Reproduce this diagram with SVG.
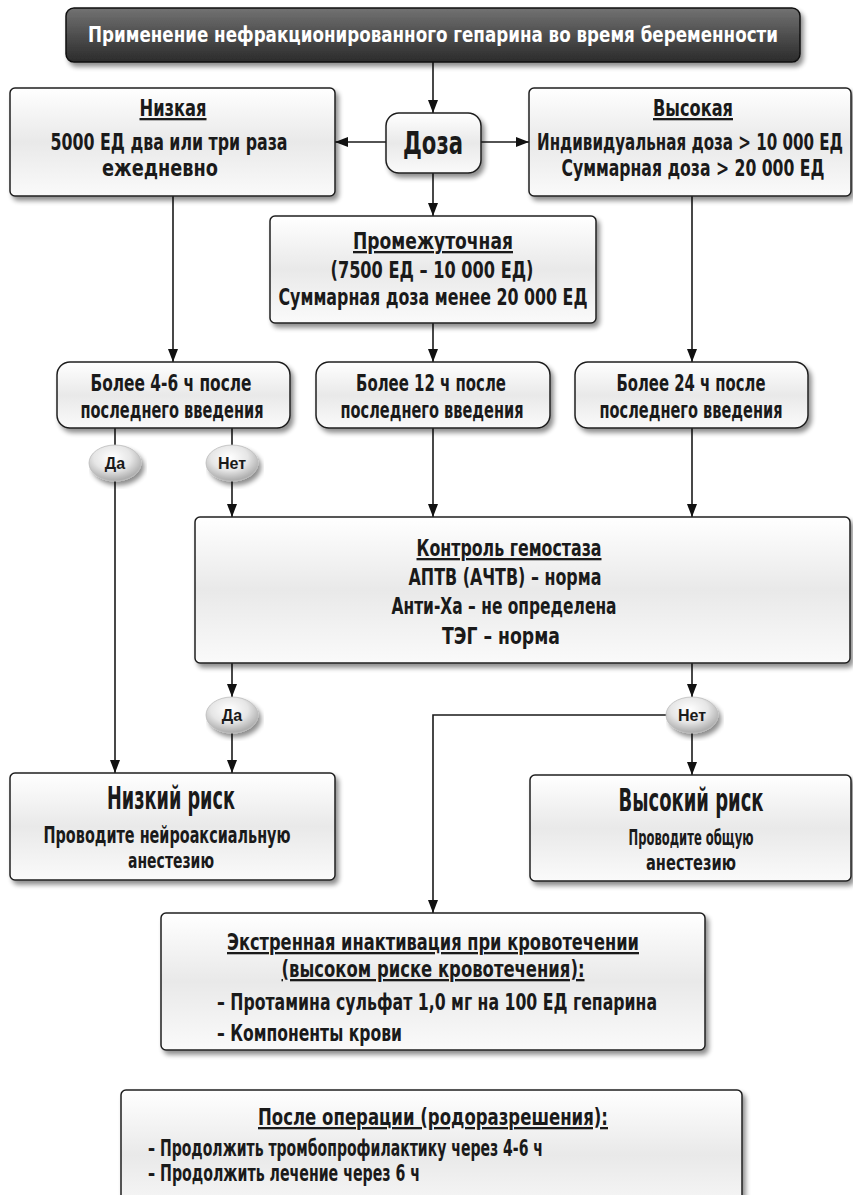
<svg xmlns="http://www.w3.org/2000/svg" width="853" height="1195" viewBox="0 0 853 1195">
  <defs>
    <linearGradient id="boxFill" x1="0" y1="0" x2="0" y2="1">
      <stop offset="0" stop-color="#ffffff"/>
      <stop offset="0.5" stop-color="#e9e9e9"/>
      <stop offset="1" stop-color="#fafafa"/>
    </linearGradient>
    <linearGradient id="titleFill" x1="0" y1="0" x2="0" y2="1">
      <stop offset="0" stop-color="#727272"/>
      <stop offset="1" stop-color="#2b2b2b"/>
    </linearGradient>
    <radialGradient id="pillFill" cx="0.45" cy="0.35" r="0.65">
      <stop offset="0" stop-color="#ffffff"/>
      <stop offset="0.55" stop-color="#e6e6e6"/>
      <stop offset="1" stop-color="#a9a9a9"/>
    </radialGradient>
    <filter id="shadow" x="-5%" y="-10%" width="115%" height="130%">
      <feGaussianBlur in="SourceAlpha" stdDeviation="2.5"/>
      <feOffset dx="3" dy="4" result="o"/>
      <feComponentTransfer><feFuncA type="linear" slope="0.45"/></feComponentTransfer>
      <feMerge><feMergeNode/><feMergeNode in="SourceGraphic"/></feMerge>
    </filter>
    <marker id="arrow" viewBox="0 0 13 10" markerWidth="13" markerHeight="10" refX="13" refY="5" orient="auto" markerUnits="userSpaceOnUse">
      <path d="M0,0 L13,5 L0,10 z" fill="#111"/>
    </marker>
  </defs>
  <style>
    .box { fill: url(#boxFill); stroke: #1f1f1f; stroke-width: 1.5; filter: url(#shadow); }
    .title { fill: url(#titleFill); stroke: #111; stroke-width: 1.5; filter: url(#shadow); }
    .pill { fill: url(#pillFill); stroke: #bdbdbd; stroke-width: 0.8; filter: url(#shadow); }
    text { font-family: "DejaVu Sans Condensed", "DejaVu Sans", sans-serif; font-stretch: condensed; font-weight: bold; fill: #1a1a1a; text-anchor: middle; }
    .t { font-size: 23px; }
    .s { font-size: 21px; }
    .u { text-decoration: underline; }
    .big { font-size: 32px; }
    .head { font-size: 21px; fill: #ffffff; }
    .pl { font-family: "Liberation Sans", Arial, sans-serif; font-stretch: normal; font-size: 16px; }
    .left { text-anchor: start; }
    .wire { fill: none; stroke: #1a1a1a; stroke-width: 1.6; }
  </style>

  <!-- connectors -->
  <g id="connectors">
    <path class="wire" d="M433,62 V113" marker-end="url(#arrow)"/>
    <path class="wire" d="M386,142 H335" marker-end="url(#arrow)"/>
    <path class="wire" d="M481,142 H529" marker-end="url(#arrow)"/>
    <path class="wire" d="M433,173 V216" marker-end="url(#arrow)"/>
    <path class="wire" d="M173,196 V362" marker-end="url(#arrow)"/>
    <path class="wire" d="M433,323 V362" marker-end="url(#arrow)"/>
    <path class="wire" d="M692,196 V362" marker-end="url(#arrow)"/>
    <path class="wire" d="M115,428 V773" marker-end="url(#arrow)"/>
    <path class="wire" d="M232,428 V517" marker-end="url(#arrow)"/>
    <path class="wire" d="M433,428 V517" marker-end="url(#arrow)"/>
    <path class="wire" d="M692,428 V517" marker-end="url(#arrow)"/>
    <path class="wire" d="M232,663 V697" marker-end="url(#arrow)"/>
    <path class="wire" d="M232,733 V773" marker-end="url(#arrow)"/>
    <path class="wire" d="M692,663 V697" marker-end="url(#arrow)"/>
    <path class="wire" d="M692,733 V775" marker-end="url(#arrow)"/>
    <path class="wire" d="M680,715 H433 V913" marker-end="url(#arrow)"/>
  </g>

  <g id="n-title">
    <rect class="title" x="66" y="8" width="734" height="54" rx="8"/>
    <text class="head" x="433" y="42" textLength="690" lengthAdjust="spacingAndGlyphs">Применение нефракционированного гепарина во время беременности</text>
  </g>

  <g id="n-dose">
    <rect class="box" x="386" y="113" width="95" height="60" rx="13"/>
    <text class="big" x="433" y="154" textLength="60" lengthAdjust="spacingAndGlyphs">Доза</text>
  </g>

  <g id="n-low">
    <rect class="box" x="10" y="88" width="325" height="108" rx="5"/>
    <text class="t u" x="173" y="116" textLength="67" lengthAdjust="spacingAndGlyphs">Низкая</text>
    <text class="t" x="169" y="150" textLength="237" lengthAdjust="spacingAndGlyphs">5000 ЕД два или три раза</text>
    <text class="t" x="160" y="176" textLength="116" lengthAdjust="spacingAndGlyphs">ежедневно</text>
  </g>

  <g id="n-high">
    <rect class="box" x="529" y="88" width="322" height="108" rx="5"/>
    <text class="t u" x="693" y="116" textLength="80" lengthAdjust="spacingAndGlyphs">Высокая</text>
    <text class="t" x="690" y="150" textLength="306" lengthAdjust="spacingAndGlyphs">Индивидуальная доза &gt; 10 000 ЕД</text>
    <text class="t" x="693" y="176" textLength="263" lengthAdjust="spacingAndGlyphs">Суммарная доза &gt; 20 000 ЕД</text>
  </g>

  <g id="n-mid">
    <rect class="box" x="270" y="216" width="326" height="107" rx="5"/>
    <text class="t u" x="433" y="249" textLength="160" lengthAdjust="spacingAndGlyphs">Промежуточная</text>
    <text class="t" x="432" y="278" textLength="203" lengthAdjust="spacingAndGlyphs">(7500 ЕД – 10 000 ЕД)</text>
    <text class="t" x="433" y="305" textLength="309" lengthAdjust="spacingAndGlyphs">Суммарная доза менее 20 000 ЕД</text>
  </g>

  <g id="n-time1">
    <rect class="box" x="57" y="362" width="233" height="66" rx="13"/>
    <text class="t" x="171" y="391" textLength="161" lengthAdjust="spacingAndGlyphs">Более 4-6 ч после</text>
    <text class="t" x="172" y="418" textLength="183" lengthAdjust="spacingAndGlyphs">последнего введения</text>
  </g>

  <g id="n-time2">
    <rect class="box" x="316" y="362" width="234" height="66" rx="13"/>
    <text class="t" x="431" y="391" textLength="150" lengthAdjust="spacingAndGlyphs">Более 12 ч после</text>
    <text class="t" x="432" y="418" textLength="183" lengthAdjust="spacingAndGlyphs">последнего введения</text>
  </g>

  <g id="n-time3">
    <rect class="box" x="575" y="362" width="233" height="66" rx="13"/>
    <text class="t" x="691" y="391" textLength="149" lengthAdjust="spacingAndGlyphs">Более 24 ч после</text>
    <text class="t" x="691" y="418" textLength="183" lengthAdjust="spacingAndGlyphs">последнего введения</text>
  </g>

  <g id="n-yes1">
    <ellipse class="pill" cx="115" cy="463" rx="26" ry="18"/>
    <text class="pl" x="115" y="469">Да</text>
  </g>

  <g id="n-no1">
    <ellipse class="pill" cx="232" cy="463" rx="26" ry="18"/>
    <text class="pl" x="232" y="469">Нет</text>
  </g>

  <g id="n-control">
    <rect class="box" x="195" y="517" width="655" height="146" rx="5"/>
    <text class="t u" x="509" y="556" textLength="185" lengthAdjust="spacingAndGlyphs">Контроль гемостаза</text>
    <text class="t" x="505" y="585" textLength="193" lengthAdjust="spacingAndGlyphs">АПТВ (АЧТВ) – норма</text>
    <text class="t" x="504" y="614" textLength="225" lengthAdjust="spacingAndGlyphs">Анти-Ха – не определена</text>
    <text class="t" x="501" y="644" textLength="118" lengthAdjust="spacingAndGlyphs">ТЭГ – норма</text>
  </g>

  <g id="n-yes2">
    <ellipse class="pill" cx="232" cy="715" rx="26" ry="18"/>
    <text class="pl" x="232" y="721">Да</text>
  </g>

  <g id="n-no2">
    <ellipse class="pill" cx="692" cy="715" rx="26" ry="18"/>
    <text class="pl" x="692" y="721">Нет</text>
  </g>

  <g id="n-lowrisk">
    <rect class="box" x="10" y="773" width="325" height="107" rx="5"/>
    <text class="big" x="171" y="809" textLength="128" lengthAdjust="spacingAndGlyphs">Низкий риск</text>
    <text class="t" x="167" y="843" textLength="247" lengthAdjust="spacingAndGlyphs">Проводите нейроаксиальную</text>
    <text class="s" x="171" y="868" textLength="86" lengthAdjust="spacingAndGlyphs">анестезию</text>
  </g>

  <g id="n-highrisk">
    <rect class="box" x="530" y="775" width="321" height="106" rx="5"/>
    <text class="big" x="691" y="811" textLength="145" lengthAdjust="spacingAndGlyphs">Высокий риск</text>
    <text class="s" x="691" y="845" textLength="125" lengthAdjust="spacingAndGlyphs">Проводите общую</text>
    <text class="s" x="691" y="870" textLength="90" lengthAdjust="spacingAndGlyphs">анестезию</text>
  </g>

  <g id="n-emergency">
    <rect class="box" x="161" y="913" width="544" height="137" rx="5"/>
    <text class="t u" x="433" y="950" textLength="412" lengthAdjust="spacingAndGlyphs">Экстренная инактивация при кровотечении</text>
    <text class="t u" x="433" y="977" textLength="303" lengthAdjust="spacingAndGlyphs">(высоком риске кровотечения):</text>
    <text class="t left" x="217" y="1010" textLength="440" lengthAdjust="spacingAndGlyphs">– Протамина сульфат 1,0 мг на 100 ЕД гепарина</text>
    <text class="t left" x="217" y="1041" textLength="185" lengthAdjust="spacingAndGlyphs">– Компоненты крови</text>
  </g>

  <g id="n-postop">
    <rect class="box" x="121" y="1090" width="621" height="130" rx="5"/>
    <text class="t u" x="433" y="1125" textLength="350" lengthAdjust="spacingAndGlyphs">После операции (родоразрешения):</text>
    <text class="t left" x="148" y="1156" textLength="395" lengthAdjust="spacingAndGlyphs">– Продолжить тромбопрофилактику через 4-6 ч</text>
    <text class="t left" x="148" y="1181" textLength="272" lengthAdjust="spacingAndGlyphs">– Продолжить лечение через 6 ч</text>
  </g>
</svg>
